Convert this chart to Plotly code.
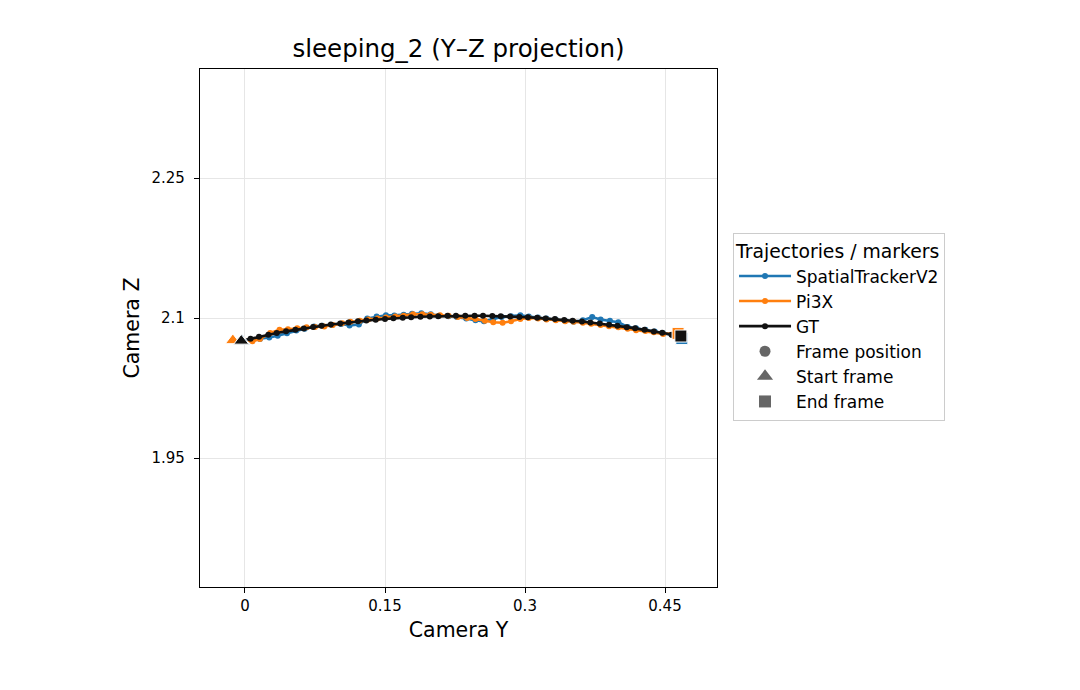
import plotly.graph_objects as go

# ---- data ----
gt_y = [-0.004, 0.006, 0.015, 0.025, 0.034, 0.044, 0.054, 0.063, 0.073, 0.082,
        0.092, 0.102, 0.111, 0.121, 0.130, 0.140, 0.150, 0.159, 0.169, 0.178,
        0.188, 0.198, 0.207, 0.217, 0.226, 0.236, 0.246, 0.255, 0.265, 0.274,
        0.284, 0.294, 0.303, 0.313, 0.322, 0.332, 0.342, 0.351, 0.361, 0.370,
        0.380, 0.390, 0.399, 0.409, 0.418, 0.428, 0.438, 0.447, 0.457, 0.467]
gt_z = [2.0755, 2.0778, 2.0799, 2.0820, 2.0839, 2.0857, 2.0873, 2.0888, 2.0903, 2.0917,
        2.0930, 2.0942, 2.0953, 2.0964, 2.0973, 2.0982, 2.0990, 2.0997, 2.1003, 2.1008,
        2.1013, 2.1017, 2.1020, 2.1023, 2.1024, 2.1025, 2.1025, 2.1024, 2.1022, 2.1020,
        2.1017, 2.1012, 2.1008, 2.1002, 2.0996, 2.0989, 2.0980, 2.0972, 2.0962, 2.0952,
        2.0941, 2.0928, 2.0916, 2.0902, 2.0889, 2.0873, 2.0856, 2.0841, 2.0822, 2.0807]

st_y = [-0.003, 0.007, 0.016, 0.026, 0.035, 0.045, 0.055, 0.064, 0.074, 0.083,
        0.093, 0.103, 0.112, 0.122, 0.131, 0.141, 0.151, 0.160, 0.170, 0.179,
        0.189, 0.199, 0.208, 0.218, 0.227, 0.237, 0.247, 0.256, 0.266, 0.275,
        0.285, 0.295, 0.304, 0.314, 0.323, 0.333, 0.343, 0.352, 0.362, 0.372,
        0.381, 0.391, 0.400, 0.410, 0.419, 0.429, 0.439, 0.448, 0.458, 0.468]
st_z = [2.0755, 2.0765, 2.0775, 2.0792, 2.0810, 2.0838, 2.0866, 2.0885, 2.0910, 2.0918,
        2.0925, 2.0935, 2.0920, 2.0930, 2.0995, 2.1015, 2.1030, 2.1028, 2.1035, 2.1045,
        2.1050, 2.1040, 2.1025, 2.1020, 2.1010, 2.0995, 2.0975, 2.0965, 2.0990, 2.1010,
        2.1020, 2.1030, 2.1015, 2.1005, 2.0995, 2.0985, 2.0972, 2.0960, 2.0975, 2.1010,
        2.0985, 2.0970, 2.0955, 2.0905, 2.0890, 2.0875, 2.0855, 2.0838, 2.0815, 2.0780]

pi_y = [-0.013, -0.002, 0.008, 0.016, 0.027, 0.037, 0.046, 0.056, 0.066, 0.075,
        0.085, 0.094, 0.104, 0.113, 0.123, 0.132, 0.142, 0.151, 0.161, 0.170,
        0.180, 0.190, 0.199, 0.209, 0.218, 0.228, 0.238, 0.247, 0.257, 0.266,
        0.276, 0.285, 0.295, 0.304, 0.314, 0.323, 0.333, 0.343, 0.352, 0.362,
        0.371, 0.381, 0.390, 0.400, 0.410, 0.419, 0.429, 0.438, 0.448, 0.464]
pi_z = [2.0760, 2.0765, 2.0750, 2.0775, 2.0840, 2.0875, 2.0880, 2.0890, 2.0900, 2.0905,
        2.0910, 2.0925, 2.0945, 2.0960, 2.0970, 2.0985, 2.0995, 2.1005, 2.1015, 2.1025,
        2.1040, 2.1040, 2.1035, 2.1030, 2.1025, 2.1010, 2.1000, 2.0990, 2.0970, 2.0955,
        2.0950, 2.0965, 2.0990, 2.1000, 2.0995, 2.0985, 2.0975, 2.0965, 2.0960, 2.0950,
        2.0938, 2.0925, 2.0912, 2.0900, 2.0885, 2.0870, 2.0860, 2.0848, 2.0830, 2.0835]

series_names = ["SpatialTrackerV2", "Pi3X", "GT"]
series_colors = ["#1f77b4", "#ff7f0e", "#111111"]
series_y = [st_y, pi_y, gt_y]
series_z = [st_z, pi_z, gt_z]

title_text = "sleeping_2 (Y–Z projection)"
x_ticks = [0, 0.15, 0.3, 0.45]
x_ticklabels = ["0", "0.15", "0.3", "0.45"]
z_ticks = [1.95, 2.1, 2.25]
z_ticklabels = ["1.95", "2.1", "2.25"]

fig = go.Figure()

for name, col, ys, zs in zip(series_names, series_colors, series_y, series_z):
    fig.add_trace(go.Scatter(
        x=ys, y=zs, mode="lines+markers", name=name,
        line=dict(color=col, width=2.6),
        marker=dict(color=col, size=6),
        legendgroup=name,
    ))

for name, col, ys, zs in zip(series_names, series_colors, series_y, series_z):
    fig.add_trace(go.Scatter(
        x=[ys[0]], y=[zs[0]], mode="markers", showlegend=False,
        marker=dict(symbol="triangle-up", size=13, color=col,
                    line=dict(color="white", width=1)),
    ))
    fig.add_trace(go.Scatter(
        x=[ys[-1]], y=[zs[-1]], mode="markers", showlegend=False,
        marker=dict(symbol="square", size=12, color=col,
                    line=dict(color="white", width=1)),
    ))

for lbl, sym, sz in [("Frame position", "circle", 11),
                     ("Start frame", "triangle-up", 14),
                     ("End frame", "square", 12)]:
    fig.add_trace(go.Scatter(
        x=[None], y=[None], mode="markers", name=lbl,
        marker=dict(symbol=sym, size=sz, color="#666666"),
    ))

axis_common = dict(
    showline=True, linecolor="black", linewidth=1.3, mirror=True,
    ticks="outside", ticklen=5, tickcolor="black", tickwidth=1.3,
    showgrid=True, gridcolor="#e6e6e6", gridwidth=1, zeroline=False,
    tickfont=dict(family="DejaVu Sans", size=15, color="black"),
)

fig.update_layout(
    width=1080, height=690,
    paper_bgcolor="white", plot_bgcolor="white",
    margin=dict(l=200, r=363, t=69, b=103),
    font=dict(family="DejaVu Sans", color="black"),
    title=dict(text=title_text, x=0.4245, xanchor="center", y=0.93, yanchor="middle",
               font=dict(size=24.5, family="DejaVu Sans", color="black")),
    xaxis=dict(range=[-0.0482, 0.5057], tickvals=x_ticks, ticktext=x_ticklabels,
               title=dict(text="Camera Y", font=dict(size=20.5), standoff=8),
               **axis_common),
    yaxis=dict(range=[1.8118, 2.3668], tickvals=z_ticks, ticktext=z_ticklabels,
               ticklabelstandoff=6,
               title=dict(text="Camera Z", font=dict(size=20.5), standoff=6),
               **axis_common),
    legend=dict(
        x=1.031, xanchor="left", y=0.502, yanchor="middle",
        title=dict(text="Trajectories / markers", font=dict(size=18.8)),
        font=dict(size=17), bordercolor="#cccccc", borderwidth=1,
        bgcolor="white", tracegroupgap=0, itemwidth=52,
    ),
)

fig.write_html("out.html")
